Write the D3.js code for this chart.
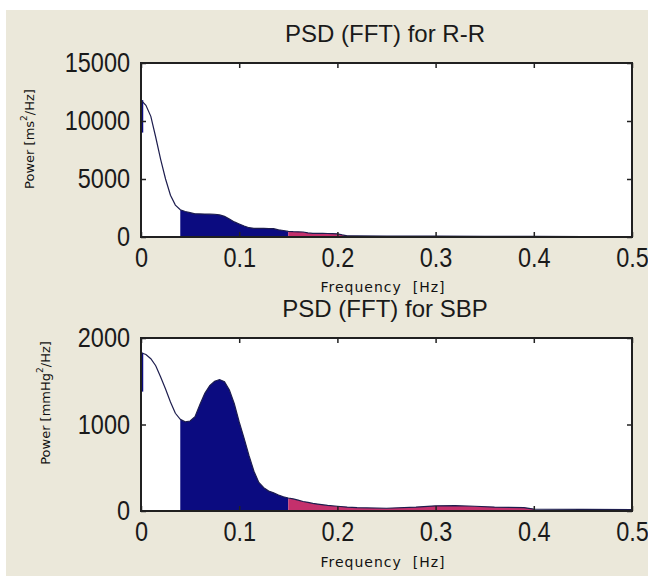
<!DOCTYPE html>
<html>
<head>
<meta charset="utf-8">
<script src="https://cdn.jsdelivr.net/npm/d3@7"></script>
<style>
  html, body { margin: 0; padding: 0; background: #ffffff; }
  svg { display: block; }
  .tick text { font-family: "Liberation Sans", Arial, sans-serif; fill: #1a1a1a; }
  .lbl { font-family: "DejaVu Sans", sans-serif; fill: #111; }
  .ttl { font-family: "Liberation Sans", Arial, sans-serif; fill: #1a1a1a; }
</style>
</head>
<body>
<script>
// Frequency bands (Hz): VLF | LF | HF
const bandEdges = [0.04, 0.15, 0.4];

// R-R interval spectrum
const rrFreq  = [0, 0.005, 0.01, 0.015, 0.02, 0.025, 0.03, 0.035, 0.04, 0.045, 0.05, 0.055, 0.06, 0.065, 0.07, 0.075, 0.08, 0.085, 0.09, 0.095, 0.1, 0.105, 0.11, 0.115, 0.12, 0.125, 0.13, 0.135, 0.14, 0.145, 0.15, 0.155, 0.16, 0.165, 0.17, 0.175, 0.18, 0.185, 0.19, 0.195, 0.2, 0.205, 0.21, 0.22, 0.25, 0.3, 0.35, 0.4, 0.45, 0.5];
const rrPower = [11800, 11350, 10400, 8600, 6700, 5000, 3600, 2750, 2350, 2200, 2100, 2000, 1990, 1980, 1970, 1960, 1900, 1780, 1550, 1300, 1120, 950, 800, 750, 740, 740, 730, 720, 620, 560, 480, 460, 450, 430, 350, 320, 310, 310, 300, 290, 270, 180, 100, 90, 80, 70, 60, 50, 45, 40];

// Systolic blood pressure spectrum
const sbpFreq  = [0, 0.005, 0.01, 0.015, 0.02, 0.025, 0.03, 0.035, 0.04, 0.045, 0.05, 0.055, 0.06, 0.065, 0.07, 0.075, 0.08, 0.085, 0.09, 0.095, 0.1, 0.105, 0.11, 0.115, 0.12, 0.125, 0.13, 0.135, 0.14, 0.145, 0.15, 0.155, 0.16, 0.165, 0.17, 0.175, 0.18, 0.19, 0.2, 0.21, 0.22, 0.25, 0.28, 0.3, 0.32, 0.34, 0.36, 0.39, 0.4, 0.45, 0.5];
const sbpPower = [1830, 1810, 1760, 1680, 1550, 1410, 1260, 1130, 1060, 1030, 1040, 1090, 1230, 1360, 1450, 1500, 1520, 1495, 1400, 1240, 1030, 840, 640, 460, 330, 270, 230, 210, 185, 165, 150, 140, 125, 110, 100, 88, 80, 65, 55, 45, 38, 32, 45, 60, 62, 55, 45, 40, 22, 18, 15];

// Lowest value of the first spectral bin marker at 0 Hz
const rrBinFloor = 9000;
const sbpBinFloor = 1380;

// Axis ticks
const freqTicks = [0, 0.1, 0.2, 0.3, 0.4, 0.5];
const freqTickLabels = ["0", "0.1", "0.2", "0.3", "0.4", "0.5"];
const rrTicks = [0, 5000, 10000, 15000];
const sbpTicks = [0, 1000, 2000];

const W = 648, H = 576;
const svg = d3.select("body").append("svg").attr("width", W).attr("height", H);

// figure background
svg.append("rect").attr("x", 6).attr("y", 10).attr("width", W - 6).attr("height", H - 10).attr("fill", "#ebe8da");

const LF_COLOR = "#0b0b80";
const HF_COLOR = "#c4306c";
const LINE_COLOR = "#1d1d4e";

function panel(opts) {
  const { freq, power, yMax, yTicks, top, bottom, title, titleY, ylabel, ylabelX, ylabelY, xlabelY, binFloor } = opts;
  const x = d3.scaleLinear().domain([0, 0.5]).range([141, 632]);
  const y = d3.scaleLinear().domain([0, yMax]).range([bottom, top]);
  const pts = freq.map((f, i) => ({ f, p: power[i] }));

  const g = svg.append("g");
  g.append("rect").attr("x", x(0)).attr("y", y(yMax)).attr("width", x(0.5) - x(0)).attr("height", y(0) - y(yMax)).attr("fill", "#ffffff");

  // value at arbitrary frequency (linear between samples)
  const interp = f => {
    const i = d3.bisectRight(freq, f);
    if (i <= 0) return power[0];
    if (i >= freq.length) return power[power.length - 1];
    const a = pts[i - 1], b = pts[i];
    return a.p + (b.p - a.p) * (f - a.f) / (b.f - a.f);
  };
  const bandPts = (lo, hi) => {
    const inner = pts.filter(d => d.f > lo + 1e-9 && d.f < hi - 1e-9);
    return [{ f: lo, p: interp(lo) }, ...inner, { f: hi, p: interp(hi) }];
  };
  const area = d3.area().x(d => x(d.f)).y0(y(0)).y1(d => y(d.p));

  g.append("path").datum(bandPts(bandEdges[0], bandEdges[1])).attr("d", area).attr("fill", LF_COLOR);
  g.append("path").datum(bandPts(bandEdges[1], bandEdges[2])).attr("d", area).attr("fill", HF_COLOR);

  // first-bin marker at 0 Hz
  g.append("line").attr("x1", x(0) + 1).attr("x2", x(0) + 1).attr("y1", y(power[0])).attr("y2", y(binFloor))
    .attr("stroke", LF_COLOR).attr("stroke-width", 2.5);

  const line = d3.line().x(d => x(d.f)).y(d => y(d.p));
  g.append("path").datum(pts).attr("d", line).attr("fill", "none").attr("stroke", LINE_COLOR).attr("stroke-width", 1.2);

  // axes
  const xb = g.append("g").attr("transform", `translate(0,${bottom})`)
    .call(d3.axisBottom(x).tickValues(freqTicks).tickFormat((d, i) => freqTickLabels[i]).tickSize(-5).tickPadding(11));
  xb.selectAll("text").attr("font-size", 27).attr("transform", "scale(0.87,1)");
  const xt = g.append("g").attr("transform", `translate(0,${top})`)
    .call(d3.axisTop(x).tickValues(freqTicks).tickFormat("").tickSize(-5));
  const yl = g.append("g").attr("transform", `translate(${x(0)},0)`)
    .call(d3.axisLeft(y).tickValues(yTicks).tickFormat(d3.format("d")).tickSize(-5).tickPadding(12.6));
  yl.selectAll("text").attr("font-size", 27).attr("transform", "scale(0.87,1)");
  const yr = g.append("g").attr("transform", `translate(${x(0.5)},0)`)
    .call(d3.axisRight(y).tickValues(yTicks).tickFormat("").tickSize(-5));
  [xb, xt, yl, yr].forEach(a => {
    a.select(".domain").remove();
    a.selectAll(".tick line").attr("stroke", "#222").attr("stroke-width", 1.5);
  });
  g.append("rect").attr("x", x(0)).attr("y", y(yMax)).attr("width", x(0.5) - x(0)).attr("height", y(0) - y(yMax))
    .attr("fill", "none").attr("stroke", "#202020").attr("stroke-width", 2);

  // labels
  svg.append("text").attr("class", "ttl").attr("x", 385).attr("y", titleY).attr("text-anchor", "middle")
    .attr("font-size", 24).text(title);
  svg.append("text").attr("class", "lbl").attr("x", 383).attr("y", xlabelY).attr("text-anchor", "middle")
    .attr("font-size", 14).attr("letter-spacing", 1).style("white-space", "pre").text("Frequency  [Hz]");
  const yt = svg.append("text").attr("class", "lbl")
    .attr("transform", `translate(${ylabelX},${ylabelY}) rotate(-90)`)
    .attr("text-anchor", "middle").attr("dominant-baseline", "central").attr("font-size", 13);
  ylabel.forEach(part => {
    const ts = yt.append("tspan").text(part.t);
    if (part.sup) ts.attr("font-size", 9).attr("baseline-shift", "super");
  });
}

panel({
  freq: rrFreq, power: rrPower, yMax: 15000, yTicks: rrTicks, top: 63, bottom: 237,
  title: "PSD (FFT) for R-R", titleY: 42,
  ylabel: [{ t: "Power [ms" }, { t: "2", sup: true }, { t: "/Hz]" }], ylabelX: 29, ylabelY: 139,
  xlabelY: 292, binFloor: rrBinFloor
});
panel({
  freq: sbpFreq, power: sbpPower, yMax: 2000, yTicks: sbpTicks, top: 338, bottom: 511,
  title: "PSD (FFT) for SBP", titleY: 317,
  ylabel: [{ t: "Power [mmHg" }, { t: "2", sup: true }, { t: "/Hz]" }], ylabelX: 45, ylabelY: 403,
  xlabelY: 567, binFloor: sbpBinFloor
});
</script>
</body>
</html>
